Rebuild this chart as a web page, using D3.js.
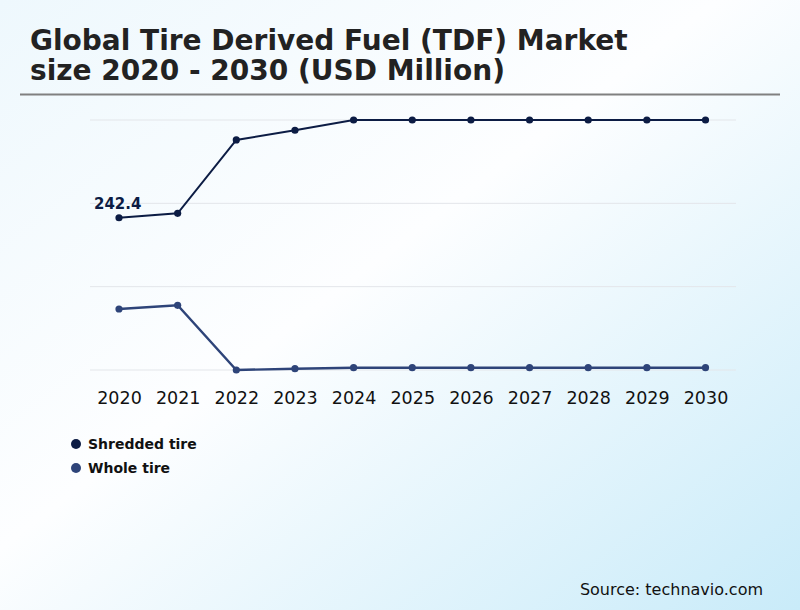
<!DOCTYPE html>
<html>
<head>
<meta charset="utf-8">
<script src="https://cdn.jsdelivr.net/npm/d3@7"></script>
<style>
	body { margin: 0; }
	svg text { font-family: "DejaVu Sans", sans-serif; }
</style>
</head>
<body>
<svg id="chart" width="800" height="610"></svg>
<script>
(function() {
	'use strict';

	// data (axis values are hidden, so units are estimated)
	var years = ['2020', '2021', '2022', '2023', '2024', '2025', '2026', '2027', '2028', '2029', '2030'];
	var shredded = [242.4, 249.5, 366.2, 381.7, 398, 398, 398, 398, 398, 398, 398];
	var whole = [97.1, 103.0, 0.0, 2.1, 3.7, 3.7, 3.7, 3.7, 3.7, 3.7, 3.7];
	var gridValues = [0, 132.7, 265.3, 398];

	var series = [
		{ name: 'Shredded tire', values: shredded, color: '#0c1c44', width: 2 },
		{ name: 'Whole tire', values: whole, color: '#2e4479', width: 2.4 }
	];

	var svg = d3.select('#chart');

	// background gradient
	var defs = svg.append('defs');
	var grad = defs.append('linearGradient')
		.attr('id', 'bg')
		.attr('x1', '0%').attr('y1', '0%')
		.attr('x2', '100%').attr('y2', '100%');
	grad.append('stop').attr('offset', '0%').attr('stop-color', '#eef8fd');
	grad.append('stop').attr('offset', '45%').attr('stop-color', '#fdfeff');
	grad.append('stop').attr('offset', '100%').attr('stop-color', '#c9ebf9');

	svg.append('rect')
		.attr('width', 800).attr('height', 610)
		.attr('fill', 'url(#bg)');

	// title
	var title = svg.append('text')
		.attr('x', 30)
		.attr('font-size', 28)
		.attr('font-weight', 'bold')
		.attr('fill', '#222');
	title.append('tspan').attr('x', 30).attr('y', 50).text('Global Tire Derived Fuel (TDF) Market');
	title.append('tspan').attr('x', 30).attr('y', 80).text('size 2020 - 2030 (USD Million)');

	svg.append('line')
		.attr('x1', 20).attr('x2', 780)
		.attr('y1', 94.5).attr('y2', 94.5)
		.attr('stroke', '#808080')
		.attr('stroke-width', 2);

	// scales
	var x = d3.scalePoint()
		.domain(years)
		.range([119, 705.5]);

	var y = d3.scaleLinear()
		.domain([0, 398])
		.range([370, 120]);

	// gridlines
	svg.append('g')
		.selectAll('line')
		.data(gridValues)
		.enter().append('line')
		.attr('x1', 90).attr('x2', 736)
		.attr('y1', function(d) { return y(d); })
		.attr('y2', function(d) { return y(d); })
		.attr('stroke', '#e3e6ea')
		.attr('stroke-width', 1);

	// x axis
	var xAxis = svg.append('g')
		.attr('transform', 'translate(0,' + 392 + ')')
		.call(d3.axisBottom(x).tickSize(0).tickPadding(0));
	xAxis.select('.domain').remove();
	xAxis.selectAll('text')
		.attr('dy', '0.71em')
		.attr('font-size', 17.5)
		.attr('font-family', '"DejaVu Sans", sans-serif')
		.attr('fill', '#111');

	// lines and points
	var line = d3.line()
		.x(function(d, i) { return x(years[i]); })
		.y(function(d) { return y(d); });

	series.forEach(function(s) {
		svg.append('path')
			.datum(s.values)
			.attr('d', line)
			.attr('fill', 'none')
			.attr('stroke', s.color)
			.attr('stroke-width', s.width);

		svg.append('g')
			.selectAll('circle')
			.data(s.values)
			.enter().append('circle')
			.attr('cx', function(d, i) { return x(years[i]); })
			.attr('cy', function(d) { return y(d); })
			.attr('r', 3.6)
			.attr('fill', s.color);
	});

	// value label for the first point
	svg.append('text')
		.attr('x', x(years[0]) - 25)
		.attr('y', y(shredded[0]) - 9)
		.attr('font-size', 15)
		.attr('font-weight', 'bold')
		.attr('fill', '#0c1c44')
		.text(shredded[0].toFixed(1));

	// legend
	var legend = svg.append('g')
		.selectAll('g')
		.data(series)
		.enter().append('g')
		.attr('transform', function(d, i) { return 'translate(76,' + (444 + i * 24) + ')'; });
	legend.append('circle')
		.attr('r', 5)
		.attr('fill', function(d) { return d.color; });
	legend.append('text')
		.attr('x', 12)
		.attr('dy', '0.35em')
		.attr('font-size', 14)
		.attr('font-weight', 'bold')
		.attr('fill', '#111')
		.text(function(d) { return d.name; });

	// source
	svg.append('text')
		.attr('x', 763)
		.attr('y', 595)
		.attr('text-anchor', 'end')
		.attr('font-size', 16)
		.attr('fill', '#111')
		.text('Source: technavio.com');
})();
</script>
</body>
</html>
